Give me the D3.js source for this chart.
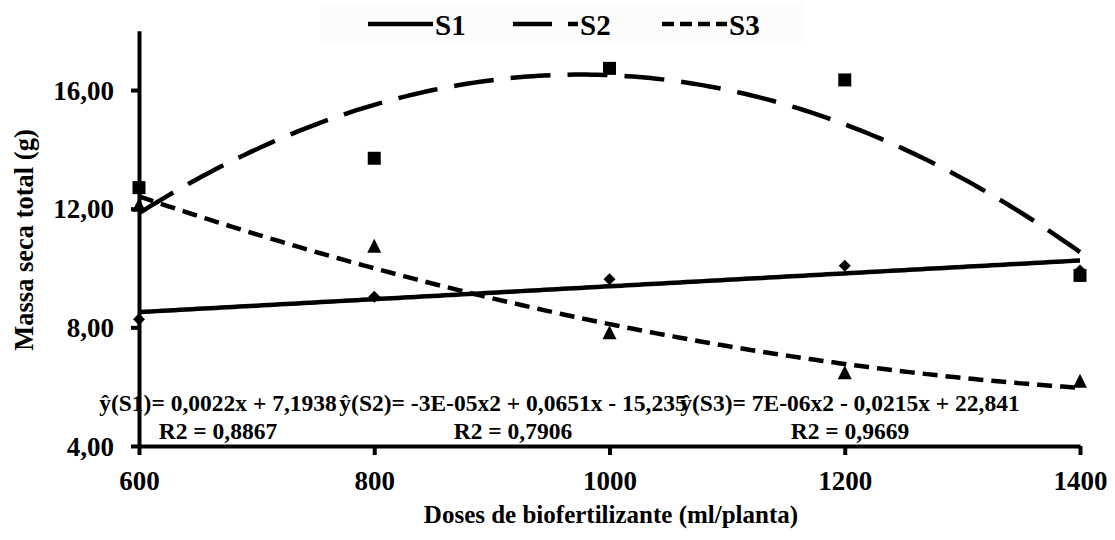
<!DOCTYPE html>
<html>
<head>
<meta charset="utf-8">
<script src="https://cdn.jsdelivr.net/npm/d3@7"></script>
<style>
  body { margin: 0; background: #fff; }
  svg { display: block; }
  text { font-family: "Liberation Serif", "Times New Roman", serif; font-weight: bold; fill: #000; }
</style>
</head>
<body>
<svg id="chart" width="1115" height="540"></svg>
<script>
// doses (ml/planta)
const doses = [600, 800, 1000, 1200, 1400]

// massa seca total (g)
const s1 = [8.27, 9.03, 9.62, 10.08, 9.92]
const s2 = [12.71, 13.70, 16.73, 16.34, 9.75]
const s3 = [12.1, 10.72, 7.8, 6.45, 6.17]

const seriesNames = ["S1", "S2", "S3"]
const fitDegree = [1, 2, 2]
const equations = [
  "ŷ(S1)= 0,0022x + 7,1938",
  "ŷ(S2)= -3E-05x2 + 0,0651x - 15,235",
  "ŷ(S3)= 7E-06x2 - 0,0215x + 22,841"
]
const r2Labels = ["R2 = 0,8867", "R2 = 0,7906", "R2 = 0,9669"]
const yTicks = [4, 8, 12, 16]

const svg = d3.select("#chart")

const x = d3.scaleLinear().domain([600, 1400]).range([139, 1080])
const y = d3.scaleLinear().domain([4, 18]).range([446, 30.7])

// least squares polynomial, like the spreadsheet trendline
function polyfit(xs, ys, deg) {
  const n = deg + 1
  const A = [], b = []
  for (let i = 0; i < n; i++) {
    A.push([])
    for (let j = 0; j < n; j++) A[i].push(d3.sum(xs, v => Math.pow(v, i + j)))
    b.push(d3.sum(xs, (v, k) => Math.pow(v, i) * ys[k]))
  }
  for (let i = 0; i < n; i++) {
    for (let k = i + 1; k < n; k++) {
      const f = A[k][i] / A[i][i]
      for (let j = i; j < n; j++) A[k][j] -= f * A[i][j]
      b[k] -= f * b[i]
    }
  }
  const c = new Array(n).fill(0)
  for (let i = n - 1; i >= 0; i--) {
    let s = b[i]
    for (let j = i + 1; j < n; j++) s -= A[i][j] * c[j]
    c[i] = s / A[i][i]
  }
  return v => c.reduce((acc, ci, i) => acc + ci * Math.pow(v, i), 0)
}

// scale x to thousands to keep the solver stable
const xs = doses.map(d => d / 1000)
const allSeries = [s1, s2, s3]
const dashes = [null, "40,17", "15,8"]

const line = d3.line().x(d => x(d[0])).y(d => y(d[1]))
const samples = d3.range(600, 1400.1, 5)

allSeries.forEach((vals, i) => {
  const f = polyfit(xs, vals, fitDegree[i])
  svg.append("path")
    .attr("d", line(samples.map(v => [v, f(v / 1000)])))
    .attr("fill", "none")
    .attr("stroke", "#000")
    .attr("stroke-width", 4.5)
    .attr("stroke-dasharray", dashes[i])
})

// axes
const yAxis = svg.append("g")
  .attr("transform", "translate(139,0)")
  .call(d3.axisLeft(y).tickValues(yTicks).tickSize(8).tickSizeOuter(0)
    .tickFormat(d => d3.format(".2f")(d).replace(".", ",")))
const xAxis = svg.append("g")
  .attr("transform", "translate(0,446)")
  .call(d3.axisBottom(x).tickValues(doses).tickSize(9).tickSizeOuter(0)
    .tickFormat(d3.format("d")))

;[yAxis, xAxis].forEach(g => {
  g.select(".domain").attr("stroke", "#000").attr("stroke-width", 4)
  g.selectAll(".tick line").attr("stroke", "#000").attr("stroke-width", 4)
  g.selectAll(".tick text")
    .attr("fill", "#000")
    .style("font-family", '"Liberation Serif", "Times New Roman", serif')
    .style("font-weight", "bold")
    .style("font-size", "27px")
})
yAxis.selectAll(".tick text").attr("x", -25).attr("dy", "0.34em")
xAxis.selectAll(".tick text").attr("y", 25).attr("dy", "0.71em")

// markers
const shapes = [
  "M0,-6L6,0L0,6L-6,0Z",
  "M-6.5,-6.5H6.5V6.5H-6.5Z",
  "M0,-8L7,6H-7Z"
]
allSeries.forEach((vals, i) => {
  svg.append("g").selectAll("path")
    .data(vals)
    .join("path")
    .attr("d", shapes[i])
    .attr("fill", "#000")
    .attr("transform", (d, k) => `translate(${x(doses[k])},${y(d)})`)
})

// equations
const eqCenters = [218, 513, 850]
equations.forEach((t, i) => {
  svg.append("text").attr("x", eqCenters[i]).attr("y", 411)
    .attr("text-anchor", "middle").style("font-size", "23.5px").text(t)
  svg.append("text").attr("x", eqCenters[i]).attr("y", 439)
    .attr("text-anchor", "middle").style("font-size", "23.5px").text(r2Labels[i])
})

// legend
svg.append("rect").attr("x", 320).attr("y", 3).attr("width", 483).attr("height", 39)
  .attr("fill", "#fcfcfc")
const legX = [368, 513, 662]
seriesNames.forEach((name, i) => {
  svg.append("line")
    .attr("x1", legX[i]).attr("x2", legX[i] + 65).attr("y1", 24).attr("y2", 24)
    .attr("stroke", "#000").attr("stroke-width", 4.5)
    .attr("stroke-dasharray", i == 0 ? null : (i == 1 ? "39,16" : "12,6"))
  svg.append("text").attr("x", legX[i] + 67).attr("y", 35)
    .style("font-size", "29px").text(name)
})

// axis titles
svg.append("text").attr("x", 611).attr("y", 523).attr("text-anchor", "middle")
  .style("font-size", "25px").text("Doses de biofertilizante (ml/planta)")
svg.append("text").attr("transform", "translate(33,240) rotate(-90)")
  .attr("text-anchor", "middle").style("font-size", "26.5px").text("Massa seca total (g)")
</script>
</body>
</html>
